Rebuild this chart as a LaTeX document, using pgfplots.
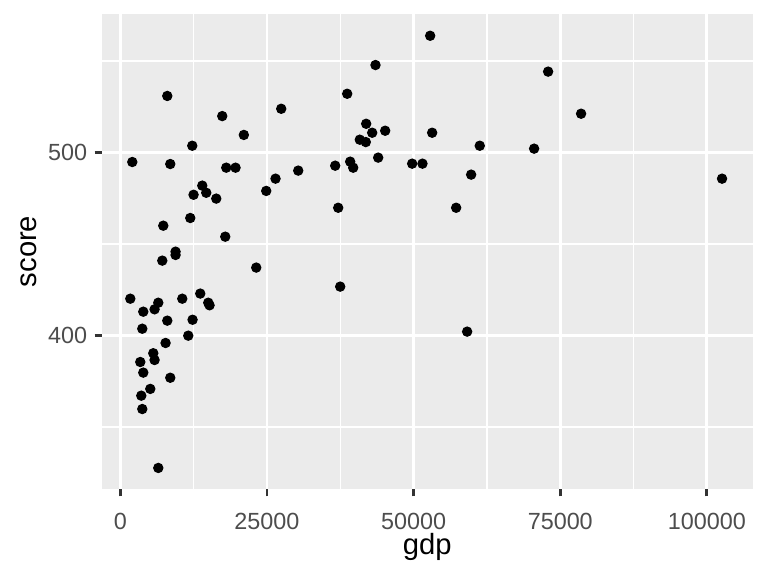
\documentclass[border=0pt]{standalone}
\usepackage{pgfplots}
\pgfplotsset{compat=1.18}
\usepackage{fontspec}
\setmainfont{Liberation Sans}
\definecolor{panelbg}{HTML}{EBEBEB}
\definecolor{tickcol}{HTML}{333333}
\definecolor{labcol}{HTML}{4D4D4D}
\pgfplotstableread{
x y
8009 531.0
17381 520.0
27434 524.0
21062 509.7
12269 503.8
2045 494.9
8520 493.8
18062 491.8
19647 491.8
30331 490.2
26463 485.8
13973 482.0
14654 478.1
12490 477.0
16358 474.9
24878 479.1
11928 464.3
7327 460.1
17892 454.1
9423 445.9
9423 444.1
7157 441.0
23174 437.2
1704 420.2
10565 420.2
13632 423.0
6475 418.0
5844 414.4
3919 413.1
14995 418.0
15217 416.6
8009 408.2
12320 408.7
3749 403.8
11587 400.0
7719 396.0
5623 390.4
5845 386.7
3408 385.6
3919 379.8
8520 377.0
5112 370.9
3578 367.2
3749 359.9
6475 327.7
52824 563.9
43503 547.9
38681 532.2
41918 515.8
42941 510.9
45156 512.0
53164 510.9
40829 507.1
41851 505.8
61277 503.8
43963 497.3
36636 492.9
39192 495.1
39703 491.8
49757 494.0
51512 494.0
59810 488.0
37147 469.9
57254 469.9
37488 426.8
59129 402.2
72931 544.3
78554 521.3
70546 502.2
102581 485.8
}\gdpdata
\begin{document}
\begin{tikzpicture}
\useasboundingbox (0,0) rectangle (289.08pt,216.81pt);
\begin{axis}[
  at={(38.39pt,32.75pt)}, anchor=south west,
  scale only axis, width=244.93pt, height=178.79pt,
  xmin=-3120, xmax=107806, ymin=316.2, ymax=575.8,
  axis background/.style={fill=panelbg},
  axis line style={draw=none},
  xtick={0,25000,50000,75000,100000},
  minor xtick={12500,37500,62500,87500},
  ytick={400,500},
  minor ytick={350,450,550},
  xtick pos=bottom, ytick pos=left,
  tick align=outside,
  major tick length=2.75pt, minor tick length=0pt,
  tick style={draw=tickcol, line width=1.07pt},
  minor tick style={draw=none},
  grid=both,
  major grid style={draw=white, line width=1.07pt},
  minor grid style={draw=white, line width=0.53pt},
  scaled ticks=false,
  /pgf/number format/.cd, fixed, 1000 sep={}, assume math mode=true, /pgfplots/.cd,
  tick label style={font=\fontsize{8.8}{10}\selectfont, text=labcol, inner sep=0pt},
  xticklabel style={anchor=north, yshift=-6.0pt},
  yticklabel style={anchor=east, xshift=-2.6pt},
  xlabel={gdp}, ylabel={score},
  label style={font=\fontsize{11}{13}\selectfont, text=black, inner sep=0pt},
  xlabel style={at={(axis description cs:0.5,-0.1389)}, anchor=base},
  ylabel style={at={(axis description cs:-0.1004,0.5)}, anchor=base},
  clip=false,
]
\addplot[only marks, mark=*, mark size=1.75pt, black, mark options={draw=black, fill=black}] table[x=x, y=y] {\gdpdata};
\end{axis}
\end{tikzpicture}
\end{document}
